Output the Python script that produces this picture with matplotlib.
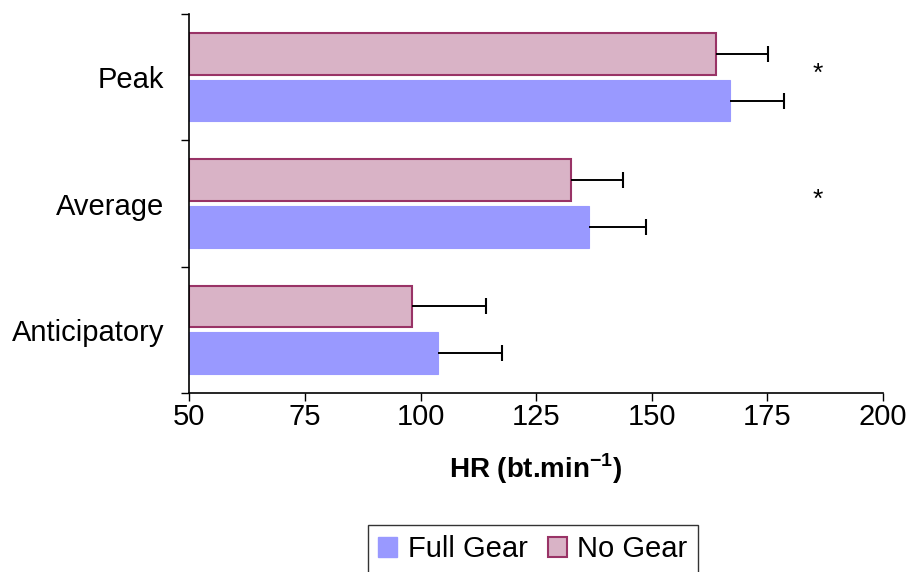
import numpy as np
import matplotlib.pyplot as plt
from matplotlib.patches import Patch

plt.rcParams['font.family'] = ['Liberation Sans', 'DejaVu Sans']
plt.rcParams['mathtext.fontset'] = 'custom'
plt.rcParams['mathtext.bf'] = 'Liberation Sans:bold'
plt.rcParams['mathtext.rm'] = 'Liberation Sans'

categories = ['Anticipatory', 'Average', 'Peak']
full_gear = [103.8, 136.4, 166.9]
full_gear_sd = [13.9, 12.3, 11.6]
no_gear = [98.1, 132.5, 163.8]
no_gear_sd = [16.0, 11.2, 11.4]
significant = [False, True, True]

blue = '#9999FF'
pink = '#D9B3C6'
pink_edge = '#993366'

fig = plt.figure(figsize=(9.14, 5.72), dpi=100)
ax = fig.add_axes([0.2071, 0.3129, 0.7589, 0.6626])

y = np.arange(len(categories))
h = 0.33
base = 50

ax.barh(y - 0.185, np.array(full_gear) - base, left=base, height=h,
        color=blue, edgecolor=blue, linewidth=0.8)
ax.barh(y + 0.185, np.array(no_gear) - base, left=base, height=h,
        color=pink, edgecolor=pink_edge, linewidth=1.5)

# one-sided SD whiskers, cap only on the outer end
for vals, sd, off in [(full_gear, full_gear_sd, -0.185), (no_gear, no_gear_sd, 0.185)]:
    vals = np.array(vals)
    ends = vals + np.array(sd)
    ax.errorbar(vals, y + off, xerr=[np.zeros(3), sd], fmt='none',
                ecolor='black', elinewidth=1.4, capsize=0)
    ax.plot(ends, y + off, linestyle='none', marker='|', markersize=12,
            markeredgewidth=1.5, color='black')

for i, s in enumerate(significant):
    if s:
        ax.text(186, y[i] + 0.03, '*', ha='center', va='center', fontsize=19)

ax.set_xlim(50, 200)
ax.set_ylim(-0.5, 2.5)
ax.set_xticks(np.arange(50, 201, 25))
ax.tick_params(axis='x', labelsize=21, length=5.5, width=1, pad=1.5, direction='out')

ax.set_yticks(y)
ax.set_yticklabels(categories)
ax.set_yticks([-0.5, 0.5, 1.5, 2.5], minor=True)
ax.tick_params(axis='y', which='major', length=0, labelsize=21, pad=18)
ax.tick_params(axis='y', which='minor', length=5.5, width=1, direction='out')

for side in ['top', 'right']:
    ax.spines[side].set_visible(False)
ax.spines['left'].set_linewidth(1.2)
ax.spines['bottom'].set_linewidth(1.2)

ax.set_xlabel(r'HR (bt.min$^{\mathbf{-1}}$)', fontsize=20, fontweight='bold', labelpad=15)

handles = [Patch(facecolor=blue, edgecolor=blue, label='Full Gear'),
           Patch(facecolor=pink, edgecolor=pink_edge, linewidth=1.5, label='No Gear')]
leg = fig.legend(handles=handles, loc='upper center', bbox_to_anchor=(0.583, 0.082),
                 ncol=2, fontsize=21, frameon=True, fancybox=False,
                 handlelength=0.65, handleheight=0.65, handletextpad=0.35,
                 columnspacing=0.7, borderpad=0.35, borderaxespad=0)
leg.get_frame().set_edgecolor('black')
leg.get_frame().set_linewidth(1.0)

fig.savefig('out.png', dpi=100)
